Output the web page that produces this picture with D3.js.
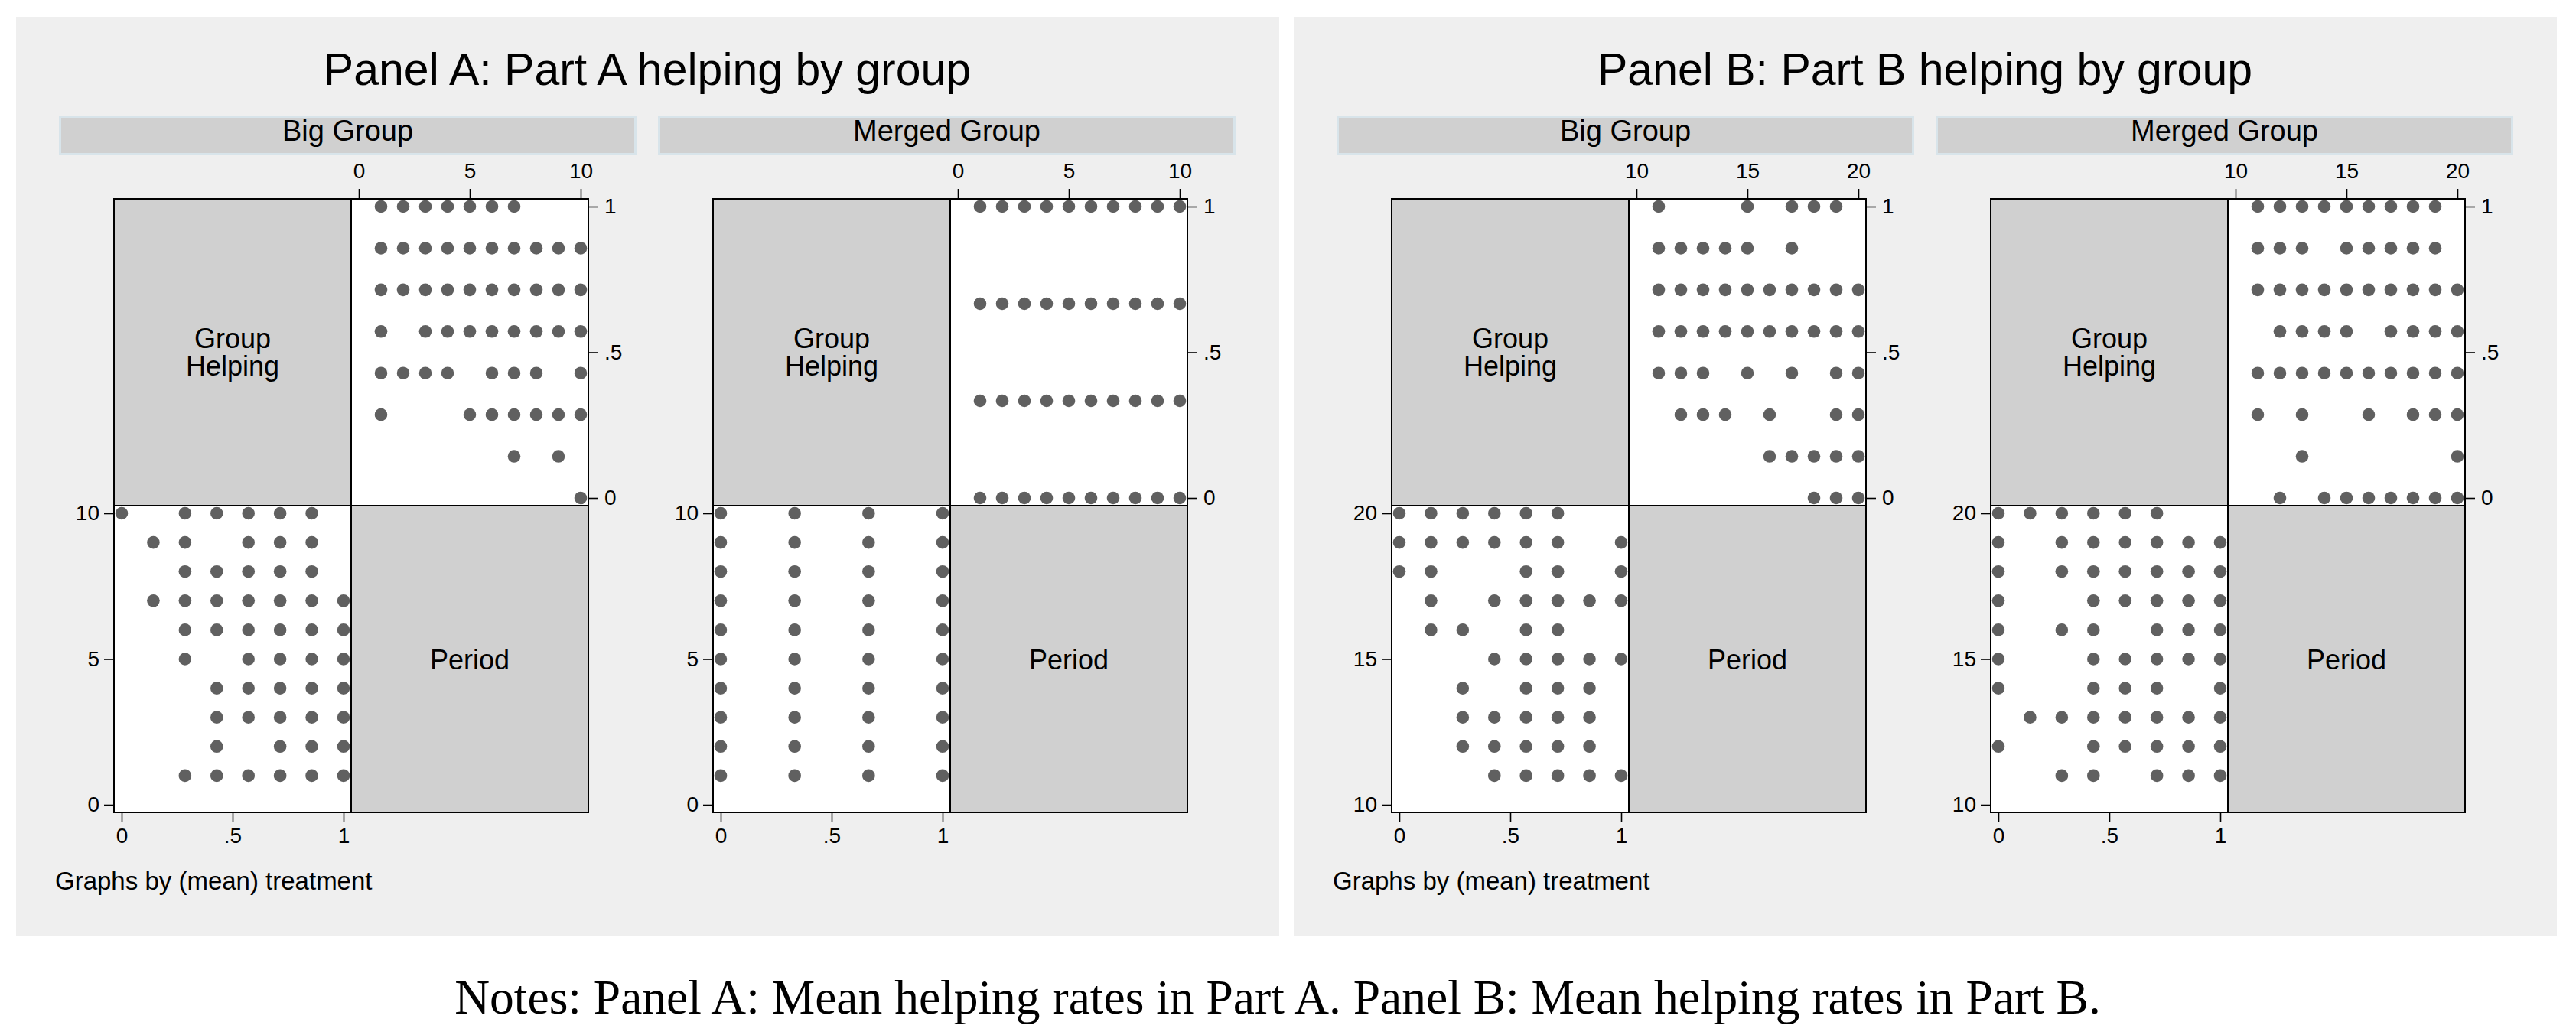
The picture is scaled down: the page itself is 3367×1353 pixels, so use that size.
<!DOCTYPE html>
<html>
<head>
<meta charset="utf-8">
<script src="https://cdn.jsdelivr.net/npm/d3@7"></script>
<style>
  body { margin: 0; background: #fff; }
  text { font-family: "Liberation Sans", Arial, sans-serif; }
</style>
</head>
<body>
<div id="chart-area"></div>
<script>
// matrix of helping rate vs period, two panels x two groups

var panelTitles = ["Panel A: Part A helping by group", "Panel B: Part B helping by group"];
var groupNames = ["Big Group", "Merged Group"];
var periodDomains = [[0, 10], [10, 20]];
var periodTicks = [[0, 5, 10], [10, 15, 20]];
var helpTicks = [0, 0.5, 1];
var notes = "Notes: Panel A: Mean helping rates in Part A. Panel B: Mean helping rates in Part B.";

// helping levels (share of group members helping)
var sevenths = [1, 6 / 7, 5 / 7, 4 / 7, 3 / 7, 2 / 7, 1 / 7, 0];
var thirds = [1, 2 / 3, 1 / 3, 0];

// periods observed at each helping level (same order as the levels)
var bigA = [
    [1, 2, 3, 4, 5, 6, 7],
    [1, 2, 3, 4, 5, 6, 7, 8, 9, 10],
    [1, 2, 3, 4, 5, 6, 7, 8, 9, 10],
    [1, 3, 4, 5, 6, 7, 8, 9, 10],
    [1, 2, 3, 4, 6, 7, 8, 10],
    [1, 5, 6, 7, 8, 9, 10],
    [7, 9],
    [10]
];
var mergedA = [
    [1, 2, 3, 4, 5, 6, 7, 8, 9, 10],
    [1, 2, 3, 4, 5, 6, 7, 8, 9, 10],
    [1, 2, 3, 4, 5, 6, 7, 8, 9, 10],
    [1, 2, 3, 4, 5, 6, 7, 8, 9, 10]
];
var bigB = [
    [11, 15, 17, 18, 19],
    [11, 12, 13, 14, 15, 17],
    [11, 12, 13, 14, 15, 16, 17, 18, 19, 20],
    [11, 12, 13, 14, 15, 16, 17, 18, 19, 20],
    [11, 12, 13, 15, 17, 19, 20],
    [12, 13, 14, 16, 19, 20],
    [16, 17, 18, 19, 20],
    [18, 19, 20]
];
var mergedB = [
    [11, 12, 13, 14, 15, 16, 17, 18, 19],
    [11, 12, 13, 15, 16, 17, 18, 19],
    [11, 12, 13, 14, 15, 16, 17, 18, 19, 20],
    [12, 13, 14, 15, 17, 18, 19, 20],
    [11, 12, 13, 14, 15, 16, 17, 18, 19, 20],
    [11, 13, 16, 18, 19, 20],
    [13, 20],
    [12, 14, 15, 16, 17, 18, 19, 20]
];

var facets = [
    [{levels: sevenths, rows: bigA}, {levels: thirds, rows: mergedA}],
    [{levels: sevenths, rows: bigB}, {levels: sevenths, rows: mergedB}]
];

function toPoints(levels, rows) {
    var pts = [];
    rows.forEach((periods, i) => {
        periods.forEach((p) => {
            pts.push({period: p, help: levels[i]});
        });
    });
    return pts;
}

var svg = d3.select("#chart-area").append("svg")
    .attr("width", 3367)
    .attr("height", 1353);

svg.append("rect").attr("width", 3367).attr("height", 1353).attr("fill", "#fff");

var panelX = [21, 1691];
var cw = 310, ch = 401, inset = 10;
var dotColor = "#606060";
var fmt = (d) => d === 0.5 ? ".5" : d;

panelTitles.forEach((title, pi) => {
    var panel = svg.append("g").attr("transform", "translate(" + panelX[pi] + ",22)");

    panel.append("rect")
        .attr("width", 1651)
        .attr("height", 1201)
        .attr("fill", "#efefef");

    panel.append("text")
        .attr("x", 825)
        .attr("y", 89)
        .attr("text-anchor", "middle")
        .attr("font-size", 59)
        .text(title);

    groupNames.forEach((name, gi) => {
        var gx = gi * 783;

        // strip
        panel.append("rect")
            .attr("x", 57.5 + gx)
            .attr("y", 130.5)
            .attr("width", 752)
            .attr("height", 49)
            .attr("fill", "#d0d0d0")
            .attr("stroke", "#d8e4ea")
            .attr("stroke-width", 3);
        panel.append("text")
            .attr("x", 433.5 + gx)
            .attr("y", 162)
            .attr("text-anchor", "middle")
            .attr("font-size", 38)
            .text(name);

        var g = panel.append("g").attr("transform", "translate(" + (128 + gx) + ",238)");
        var dom = periodDomains[pi];
        var pts = toPoints(facets[pi][gi].levels, facets[pi][gi].rows);

        var xP = d3.scaleLinear().domain(dom).range([cw + inset, 2 * cw - inset]);
        var yH = d3.scaleLinear().domain([0, 1]).range([ch - inset, inset]);
        var xH = d3.scaleLinear().domain([0, 1]).range([inset, cw - inset]);
        var yP = d3.scaleLinear().domain(dom).range([2 * ch - inset, ch + inset]);

        var cells = [[0, 0, "#d0d0d0"], [cw, 0, "#fff"], [0, ch, "#fff"], [cw, ch, "#d0d0d0"]];
        g.selectAll("rect.cell").data(cells).enter()
            .append("rect")
                .attr("class", "cell")
                .attr("x", (d) => d[0])
                .attr("y", (d) => d[1])
                .attr("width", cw)
                .attr("height", ch)
                .attr("fill", (d) => d[2])
                .attr("stroke", "#000")
                .attr("stroke-width", 2);

        g.append("text")
            .attr("x", cw / 2)
            .attr("y", 195)
            .attr("text-anchor", "middle")
            .attr("font-size", 36)
            .text("Group");
        g.append("text")
            .attr("x", cw / 2)
            .attr("y", 231)
            .attr("text-anchor", "middle")
            .attr("font-size", 36)
            .text("Helping");
        g.append("text")
            .attr("x", cw * 1.5)
            .attr("y", ch * 1.5 + 13)
            .attr("text-anchor", "middle")
            .attr("font-size", 36)
            .text("Period");

        // axes
        var axTop = g.append("g").call(d3.axisTop(xP).tickValues(periodTicks[pi]).tickSize(13).tickPadding(14));
        var axRight = g.append("g").attr("transform", "translate(" + (2 * cw) + ",0)")
            .call(d3.axisRight(yH).tickValues(helpTicks).tickFormat(fmt).tickSize(13).tickPadding(8));
        var axLeft = g.append("g")
            .call(d3.axisLeft(yP).tickValues(periodTicks[pi]).tickSize(13).tickPadding(6));
        var axBottom = g.append("g").attr("transform", "translate(0," + (2 * ch) + ")")
            .call(d3.axisBottom(xH).tickValues(helpTicks).tickFormat(fmt).tickSize(13).tickPadding(7));

        [axTop, axRight, axLeft, axBottom].forEach((ax) => {
            ax.select(".domain").remove();
            ax.selectAll("line").attr("stroke", "#000").attr("stroke-width", 1.6);
            ax.selectAll("text")
                .attr("font-size", 28)
                .attr("font-family", "Liberation Sans, Arial, sans-serif")
                .attr("fill", "#000");
        });

        // upper right: period vs helping
        g.selectAll("circle.ur").data(pts).enter()
            .append("circle")
                .attr("class", "ur")
                .attr("cx", (d) => xP(d.period))
                .attr("cy", (d) => yH(d.help))
                .attr("r", 8.3)
                .attr("fill", dotColor);

        // lower left: helping vs period
        g.selectAll("circle.ll").data(pts).enter()
            .append("circle")
                .attr("class", "ll")
                .attr("cx", (d) => xH(d.help))
                .attr("cy", (d) => yP(d.period))
                .attr("r", 8.3)
                .attr("fill", dotColor);
    });

    panel.append("text")
        .attr("x", 51)
        .attr("y", 1141)
        .attr("font-size", 33)
        .text("Graphs by (mean) treatment");
});

svg.append("text")
    .attr("x", 1670)
    .attr("y", 1325)
    .attr("text-anchor", "middle")
    .style("font-family", "'Liberation Serif', serif")
    .attr("font-size", 63.5)
    .text(notes);
</script>
</body>
</html>
